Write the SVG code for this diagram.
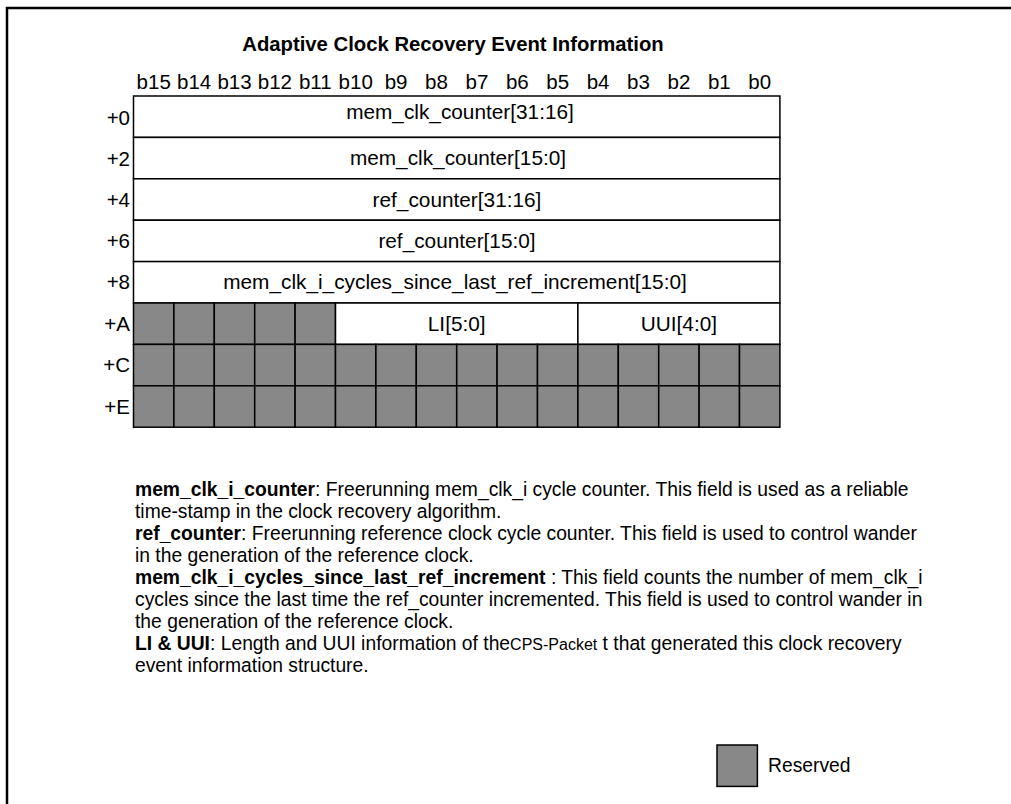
<svg xmlns="http://www.w3.org/2000/svg" width="1011" height="804" viewBox="0 0 1011 804">
<style>
text{font-family:"Liberation Sans",Arial,sans-serif;fill:#000}
.h{font-size:20.3px;font-weight:bold;text-anchor:middle}
.bit{font-size:20.5px;text-anchor:middle}
.off{font-size:20.5px;text-anchor:end}
.fld{font-size:20.8px;text-anchor:middle}
.d{font-size:19.3px}
.b{font-weight:bold}
.cell{fill:#fff;stroke:#000;stroke-width:1.5}
.res{fill:#888;stroke:#000;stroke-width:1.5}
</style>
<rect x="7" y="8" width="1020" height="820" fill="#fff" stroke="#000" stroke-width="2.5"/>
<text id="title" class="h" x="453" y="51">Adaptive Clock Recovery Event Information</text>
<g id="bits">
<text class="bit" x="153.7" y="89">b15</text>
<text class="bit" x="194.1" y="89">b14</text>
<text class="bit" x="234.5" y="89">b13</text>
<text class="bit" x="274.9" y="89">b12</text>
<text class="bit" x="315.3" y="89">b11</text>
<text class="bit" x="355.7" y="89">b10</text>
<text class="bit" x="396.1" y="89">b9</text>
<text class="bit" x="436.5" y="89">b8</text>
<text class="bit" x="476.9" y="89">b7</text>
<text class="bit" x="517.3" y="89">b6</text>
<text class="bit" x="557.7" y="89">b5</text>
<text class="bit" x="598.1" y="89">b4</text>
<text class="bit" x="638.5" y="89">b3</text>
<text class="bit" x="678.9" y="89">b2</text>
<text class="bit" x="719.3" y="89">b1</text>
<text class="bit" x="759.7" y="89">b0</text>
</g>
<g id="row0">
<rect class="cell" x="133.5" y="96" width="646.4" height="41.4"/>
<text class="off" x="130" y="125">+0</text>
<text class="fld" x="460" y="119">mem_clk_counter[31:16]</text>
</g>
<g id="row2">
<rect class="cell" x="133.5" y="137.4" width="646.4" height="41.4"/>
<text class="off" x="130" y="166">+2</text>
<text class="fld" x="458" y="165">mem_clk_counter[15:0]</text>
</g>
<g id="row4">
<rect class="cell" x="133.5" y="178.8" width="646.4" height="41.4"/>
<text class="off" x="130" y="207">+4</text>
<text class="fld" x="457" y="207">ref_counter[31:16]</text>
</g>
<g id="row6">
<rect class="cell" x="133.5" y="220.2" width="646.4" height="41.4"/>
<text class="off" x="130" y="248">+6</text>
<text class="fld" x="457" y="248">ref_counter[15:0]</text>
</g>
<g id="row8">
<rect class="cell" x="133.5" y="261.6" width="646.4" height="41.4"/>
<text class="off" x="130" y="289">+8</text>
<text class="fld" x="455" y="289">mem_clk_i_cycles_since_last_ref_increment[15:0]</text>
</g>
<g id="rowA">
<rect class="res" x="133.5" y="303" width="40.4" height="41.4"/>
<rect class="res" x="173.9" y="303" width="40.4" height="41.4"/>
<rect class="res" x="214.3" y="303" width="40.4" height="41.4"/>
<rect class="res" x="254.7" y="303" width="40.4" height="41.4"/>
<rect class="res" x="295.1" y="303" width="40.4" height="41.4"/>
<rect class="cell" x="335.5" y="303" width="242.4" height="41.4"/>
<rect class="cell" x="577.9" y="303" width="202" height="41.4"/>
<text class="off" x="130" y="331">+A</text>
<text class="fld" x="456.7" y="331">LI[5:0]</text>
<text class="fld" x="678.9" y="331">UUI[4:0]</text>
</g>
<g id="rowC">
<rect class="res" x="133.5" y="344.4" width="40.4" height="41.4"/>
<rect class="res" x="173.9" y="344.4" width="40.4" height="41.4"/>
<rect class="res" x="214.3" y="344.4" width="40.4" height="41.4"/>
<rect class="res" x="254.7" y="344.4" width="40.4" height="41.4"/>
<rect class="res" x="295.1" y="344.4" width="40.4" height="41.4"/>
<rect class="res" x="335.5" y="344.4" width="40.4" height="41.4"/>
<rect class="res" x="375.9" y="344.4" width="40.4" height="41.4"/>
<rect class="res" x="416.3" y="344.4" width="40.4" height="41.4"/>
<rect class="res" x="456.7" y="344.4" width="40.4" height="41.4"/>
<rect class="res" x="497.1" y="344.4" width="40.4" height="41.4"/>
<rect class="res" x="537.5" y="344.4" width="40.4" height="41.4"/>
<rect class="res" x="577.9" y="344.4" width="40.4" height="41.4"/>
<rect class="res" x="618.3" y="344.4" width="40.4" height="41.4"/>
<rect class="res" x="658.7" y="344.4" width="40.4" height="41.4"/>
<rect class="res" x="699.1" y="344.4" width="40.4" height="41.4"/>
<rect class="res" x="739.5" y="344.4" width="40.4" height="41.4"/>
<text class="off" x="130" y="372">+C</text>
</g>
<g id="rowE">
<rect class="res" x="133.5" y="385.8" width="40.4" height="41.4"/>
<rect class="res" x="173.9" y="385.8" width="40.4" height="41.4"/>
<rect class="res" x="214.3" y="385.8" width="40.4" height="41.4"/>
<rect class="res" x="254.7" y="385.8" width="40.4" height="41.4"/>
<rect class="res" x="295.1" y="385.8" width="40.4" height="41.4"/>
<rect class="res" x="335.5" y="385.8" width="40.4" height="41.4"/>
<rect class="res" x="375.9" y="385.8" width="40.4" height="41.4"/>
<rect class="res" x="416.3" y="385.8" width="40.4" height="41.4"/>
<rect class="res" x="456.7" y="385.8" width="40.4" height="41.4"/>
<rect class="res" x="497.1" y="385.8" width="40.4" height="41.4"/>
<rect class="res" x="537.5" y="385.8" width="40.4" height="41.4"/>
<rect class="res" x="577.9" y="385.8" width="40.4" height="41.4"/>
<rect class="res" x="618.3" y="385.8" width="40.4" height="41.4"/>
<rect class="res" x="658.7" y="385.8" width="40.4" height="41.4"/>
<rect class="res" x="699.1" y="385.8" width="40.4" height="41.4"/>
<rect class="res" x="739.5" y="385.8" width="40.4" height="41.4"/>
<text class="off" x="130" y="414">+E</text>
</g>
<g id="description">
<text class="d" x="135" y="496"><tspan class="b">mem_clk_i_counter</tspan>: Freerunning mem_clk_i cycle counter. This field is used as a reliable</text>
<text class="d" x="135" y="518">time-stamp in the clock recovery algorithm.</text>
<text class="d" x="135" y="540"><tspan class="b">ref_counter</tspan>: Freerunning reference clock cycle counter. This field is used to control wander</text>
<text class="d" x="135" y="562">in the generation of the reference clock.</text>
<text class="d" x="135" y="584"><tspan class="b">mem_clk_i_cycles_since_last_ref_increment</tspan> : This field counts the number of mem_clk_i</text>
<text class="d" x="135" y="606">cycles since the last time the ref_counter incremented. This field is used to control wander in</text>
<text class="d" x="135" y="628">the generation of the reference clock.</text>
<text class="d" x="135" y="650"><tspan class="b">LI &amp; UUI</tspan>: Length and UUI information of the<tspan font-size="16">CPS-Packet</tspan> t that generated this clock recovery</text>
<text class="d" x="135" y="672">event information structure.</text>
</g>
<g id="legend">
<rect class="res" x="717" y="745" width="40.4" height="41.4"/>
<text class="d" x="768" y="772">Reserved</text>
</g>
</svg>
